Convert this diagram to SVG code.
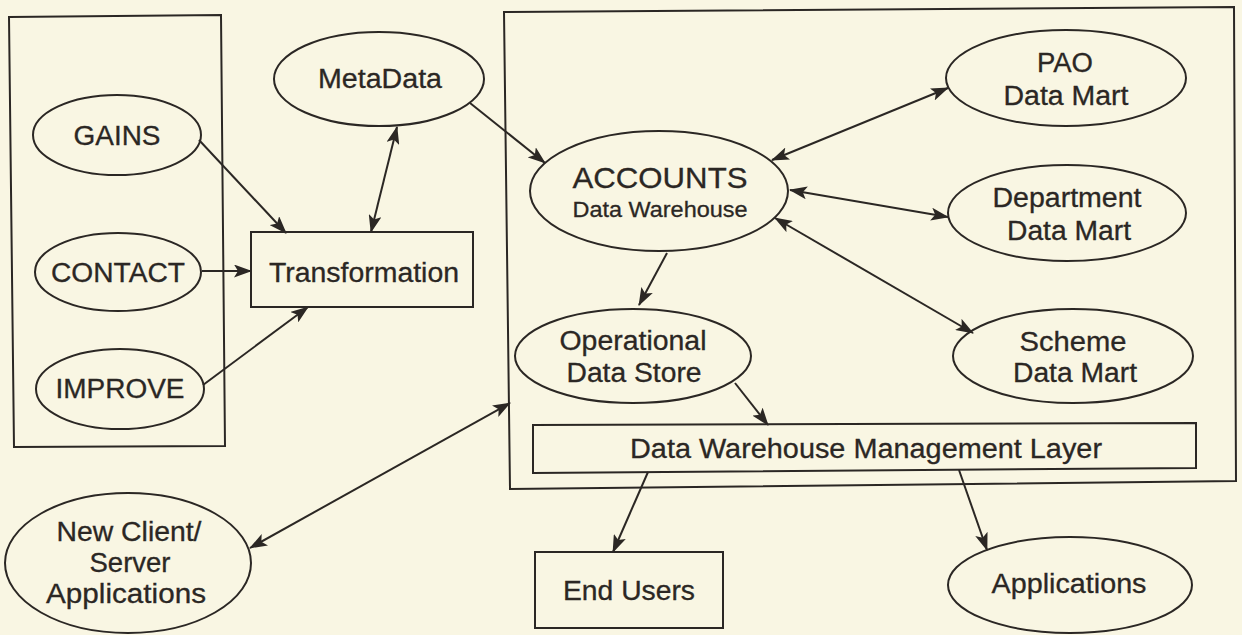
<svg xmlns="http://www.w3.org/2000/svg" width="1242" height="635" viewBox="0 0 1242 635">
  <style>
    .bg { fill: #f9f6e3; }
    .shape { fill: none; stroke: #2b2724; stroke-width: 2; }
    .frame { fill: none; stroke: #2b2724; stroke-width: 2; }
    .edge { fill: none; stroke: #2b2724; stroke-width: 2; }
    .lbl { font-family: "Liberation Sans", Arial, sans-serif; fill: #2b2724; stroke: #2b2724; stroke-width: 0.3; text-anchor: middle; font-size: 27px; }
    .small { font-size: 22px; }
    .big { font-size: 30px; }
  </style>
  <defs>
    <marker id="arrow" viewBox="0 0 18 13" markerUnits="userSpaceOnUse" markerWidth="18" markerHeight="13" refX="17" refY="6.5" orient="auto-start-reverse">
      <path d="M0,0 L18,6.5 L0,13 L4,6.5 Z" fill="#2b2724"/>
    </marker>
  </defs>

  <rect class="bg" x="0" y="0" width="1242" height="635"/>

  <!-- enclosing frames -->
  <g id="source-systems-frame">
    <path class="frame" d="M9,17 L221,15 L225,446 L14,447 Z"/>
  </g>
  <g id="warehouse-frame">
    <path class="frame" d="M504,12 L1234,7 L1236,481 L510,489 Z"/>
  </g>

  <!-- connectors -->
  <g id="connectors">
    <path class="edge" d="M199,140 L286,233" marker-end="url(#arrow)"/>
    <path class="edge" d="M202,271 L251,271" marker-end="url(#arrow)"/>
    <path class="edge" d="M203,385 L308,307" marker-end="url(#arrow)"/>
    <path class="edge" d="M397,127 L371,232" marker-start="url(#arrow)" marker-end="url(#arrow)"/>
    <path class="edge" d="M470,103 L545,163" marker-end="url(#arrow)"/>
    <path class="edge" d="M772,160 L948,88" marker-start="url(#arrow)" marker-end="url(#arrow)"/>
    <path class="edge" d="M790,190 L948,217" marker-start="url(#arrow)" marker-end="url(#arrow)"/>
    <path class="edge" d="M775,218 L973,333" marker-start="url(#arrow)" marker-end="url(#arrow)"/>
    <path class="edge" d="M667,253 L639,305" marker-end="url(#arrow)"/>
    <path class="edge" d="M735,383 L768,425" marker-end="url(#arrow)"/>
    <path class="edge" d="M250,548 L510,403" marker-start="url(#arrow)" marker-end="url(#arrow)"/>
    <path class="edge" d="M648,472 L613,552" marker-end="url(#arrow)"/>
    <path class="edge" d="M959,470 L987,550" marker-end="url(#arrow)"/>
  </g>

  <!-- source systems -->
  <g id="gains">
    <ellipse class="shape" cx="117" cy="135" rx="84" ry="40"/>
    <text class="lbl" x="117" y="145" textLength="87" lengthAdjust="spacingAndGlyphs">GAINS</text>
  </g>
  <g id="contact">
    <ellipse class="shape" cx="118" cy="272" rx="83" ry="39"/>
    <text class="lbl" x="118" y="282" textLength="134" lengthAdjust="spacingAndGlyphs">CONTACT</text>
  </g>
  <g id="improve">
    <ellipse class="shape" cx="120" cy="389" rx="84" ry="40"/>
    <text class="lbl" x="120" y="398" textLength="129" lengthAdjust="spacingAndGlyphs">IMPROVE</text>
  </g>

  <g id="transformation">
    <rect class="shape" x="251" y="232" width="222" height="75"/>
    <text class="lbl" x="364" y="282" textLength="190" lengthAdjust="spacingAndGlyphs">Transformation</text>
  </g>
  <g id="metadata">
    <ellipse class="shape" cx="379" cy="79" rx="105" ry="47"/>
    <text class="lbl" x="380" y="88" textLength="124" lengthAdjust="spacingAndGlyphs">MetaData</text>
  </g>

  <!-- warehouse -->
  <g id="accounts">
    <ellipse class="shape" cx="659" cy="191" rx="129" ry="60"/>
    <text class="lbl big" x="660" y="188" textLength="175" lengthAdjust="spacingAndGlyphs">ACCOUNTS</text>
    <text class="lbl small" x="660" y="217" textLength="175" lengthAdjust="spacingAndGlyphs">Data Warehouse</text>
  </g>
  <g id="pao-mart">
    <ellipse class="shape" cx="1066" cy="78" rx="120" ry="48"/>
    <text class="lbl" x="1065" y="72" textLength="56" lengthAdjust="spacingAndGlyphs">PAO</text>
    <text class="lbl" x="1066" y="105" textLength="125" lengthAdjust="spacingAndGlyphs">Data Mart</text>
  </g>
  <g id="department-mart">
    <ellipse class="shape" cx="1067" cy="213" rx="119" ry="48"/>
    <text class="lbl" x="1067" y="207" textLength="149" lengthAdjust="spacingAndGlyphs">Department</text>
    <text class="lbl" x="1069" y="240" textLength="124" lengthAdjust="spacingAndGlyphs">Data Mart</text>
  </g>
  <g id="scheme-mart">
    <ellipse class="shape" cx="1073" cy="356" rx="120" ry="47"/>
    <text class="lbl" x="1073" y="351" textLength="107" lengthAdjust="spacingAndGlyphs">Scheme</text>
    <text class="lbl" x="1075" y="382" textLength="124" lengthAdjust="spacingAndGlyphs">Data Mart</text>
  </g>
  <g id="operational-data-store">
    <ellipse class="shape" cx="633" cy="356" rx="118" ry="47"/>
    <text class="lbl" x="633" y="350" textLength="147" lengthAdjust="spacingAndGlyphs">Operational</text>
    <text class="lbl" x="634" y="382" textLength="135" lengthAdjust="spacingAndGlyphs">Data Store</text>
  </g>
  <g id="management-layer">
    <path class="shape" d="M533,425 L1196,423 L1196,468 L533,473 Z"/>
    <text class="lbl" x="866" y="458" textLength="472" lengthAdjust="spacingAndGlyphs">Data Warehouse Management Layer</text>
  </g>

  <!-- consumers -->
  <g id="new-client-server">
    <ellipse class="shape" cx="128" cy="563" rx="123" ry="70"/>
    <text class="lbl" x="129" y="541" textLength="145" lengthAdjust="spacingAndGlyphs">New Client/</text>
    <text class="lbl" x="130" y="572" textLength="81" lengthAdjust="spacingAndGlyphs">Server</text>
    <text class="lbl" x="126" y="603" textLength="160" lengthAdjust="spacingAndGlyphs">Applications</text>
  </g>
  <g id="end-users">
    <rect class="shape" x="535" y="552" width="188" height="76"/>
    <text class="lbl" x="629" y="600" textLength="132" lengthAdjust="spacingAndGlyphs">End Users</text>
  </g>
  <g id="applications">
    <ellipse class="shape" cx="1070" cy="585" rx="122" ry="48"/>
    <text class="lbl" x="1069" y="593" textLength="155" lengthAdjust="spacingAndGlyphs">Applications</text>
  </g>
</svg>
